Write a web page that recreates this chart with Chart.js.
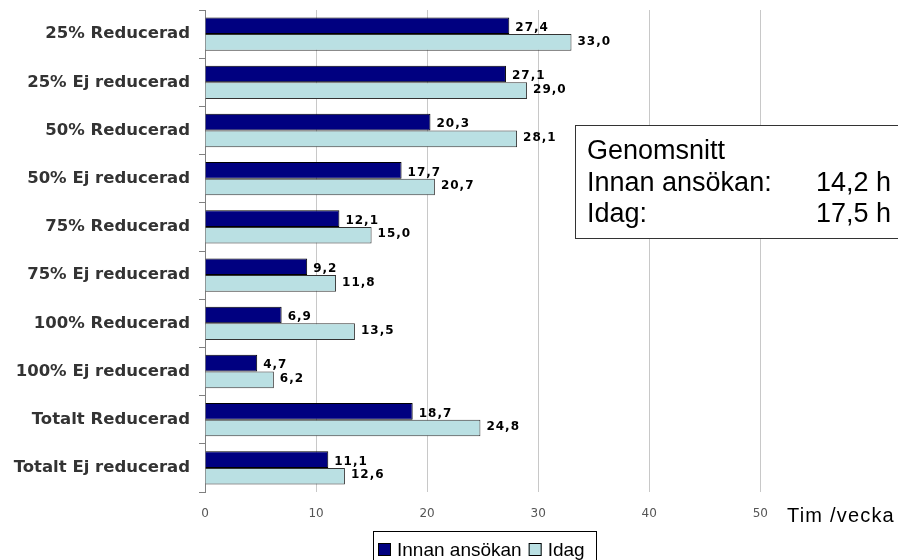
<!DOCTYPE html>
<html>
<head>
<meta charset="utf-8">
<script src="https://cdn.jsdelivr.net/npm/chart.js@4"></script>
<style>
  body { margin: 0; background: #fff; }
  canvas { display: block; }
</style>
</head>
<body>
<canvas id="timChart" width="898" height="560"></canvas>
<script>
// ========= DATA ==========
const categories = [
  "25% Reducerad",
  "25% Ej reducerad",
  "50% Reducerad",
  "50% Ej reducerad",
  "75% Reducerad",
  "75% Ej reducerad",
  "100% Reducerad",
  "100% Ej reducerad",
  "Totalt Reducerad",
  "Totalt Ej reducerad"
];
const innanAnsokan = [27.4, 27.1, 20.3, 17.7, 12.1, 9.2, 6.9, 4.7, 18.7, 11.1];
const idag = [33.0, 29.0, 28.1, 20.7, 15.0, 11.8, 13.5, 6.2, 24.8, 12.6];
const seriesNames = ["Innan ansökan", "Idag"];
const xTicks = [0, 10, 20, 30, 40, 50];
const axisTitle = "Tim /vecka";
const summaryTitle = "Genomsnitt";
const summaryRows = [["Innan ansökan:", "14,2 h"], ["Idag:", "17,5 h"]];

const DARK = "#000080";
const LIGHT = "#bae0e3";

const fmt = (v) => v.toFixed(1).replace(".", ",");

// ========= VALUE LABELS ==========
const valueLabels = {
  id: "valueLabels",
  afterDatasetsDraw(chart) {
    const ctx = chart.ctx;
    ctx.save();
    ctx.font = "bold 12px 'DejaVu Sans'";
    ctx.letterSpacing = "1px";
    ctx.fillStyle = "#000";
    ctx.textBaseline = "middle";
    ctx.textAlign = "left";
    chart.data.datasets.forEach((ds, i) => {
      const meta = chart.getDatasetMeta(i);
      meta.data.forEach((bar, j) => {
        const dy = i === 0 ? 2 : -1;
        ctx.fillText(fmt(ds.data[j]), bar.x + 6, bar.y + dy);
      });
    });
    ctx.restore();
  }
};

// ========= EXTRAS: AXIS TITLE, SUMMARY BOX, LEGEND ==========
const extras = {
  id: "extras",
  afterDraw(chart) {
    const ctx = chart.ctx;
    ctx.save();

    // axis title next to last tick
    ctx.fillStyle = "#000";
    ctx.font = "20px 'Liberation Sans'";
    ctx.letterSpacing = "1.2px";
    ctx.textBaseline = "alphabetic";
    ctx.textAlign = "left";
    ctx.fillText(axisTitle, 787, 522);
    ctx.letterSpacing = "0px";

    // summary box
    ctx.fillStyle = "#fff";
    ctx.fillRect(575.5, 125.5, 340, 113);
    ctx.strokeStyle = "#333";
    ctx.lineWidth = 1;
    ctx.strokeRect(575.5, 125.5, 340, 113);
    ctx.fillStyle = "#000";
    ctx.font = "27px 'Liberation Sans'";
    ctx.fillText(summaryTitle, 587, 159);
    summaryRows.forEach((r, i) => {
      ctx.fillText(r[0], 587, 191 + i * 31);
      ctx.fillText(r[1], 816, 191 + i * 31);
    });

    // legend
    ctx.strokeStyle = "#000";
    ctx.strokeRect(373.5, 531.5, 223, 40);
    ctx.font = "19px 'Liberation Sans'";
    const cols = [DARK, LIGHT];
    let lx = 378;
    seriesNames.forEach((name, i) => {
      ctx.fillStyle = cols[i];
      ctx.fillRect(lx, 543, 13, 13);
      ctx.strokeRect(lx + 0.5, 543.5, 12, 12);
      ctx.fillStyle = "#000";
      ctx.fillText(name, lx + 19, 556);
      lx += 19 + ctx.measureText(name).width + 7;
    });

    ctx.restore();
  }
};

// drop the label padding Chart.js adds around the plot
const noPadX = (s) => { s.height = 68; s.paddingLeft = 0; s.paddingRight = 0; };
const noPadY = (s) => { s.width = 205; s.paddingTop = 0; s.paddingBottom = 0; };

// ========= CHART.JS ==========
new Chart(document.getElementById("timChart").getContext("2d"), {
  type: "bar",
  data: {
    labels: categories,
    datasets: [
      {
        label: seriesNames[0],
        data: innanAnsokan,
        backgroundColor: DARK,
        borderColor: "#000",
        borderWidth: 1,
        categoryPercentage: 0.69,
        barPercentage: 1
      },
      {
        label: seriesNames[1],
        data: idag,
        backgroundColor: LIGHT,
        borderColor: "#333",
        borderWidth: 1,
        categoryPercentage: 0.69,
        barPercentage: 1
      }
    ]
  },
  options: {
    indexAxis: "y",
    responsive: false,
    animation: false,
    layout: { padding: { top: 10, left: 0, right: 0, bottom: 0 } },
    plugins: {
      legend: { display: false },
      tooltip: { enabled: false }
    },
    scales: {
      x: {
        min: 0,
        max: 62.4,
        afterFit: noPadX,
        border: { display: false },
        grid: {
          drawTicks: false,
          color: (c) => (c.tick && c.tick.value > 0 && c.tick.value <= 50 ? "#c8c8c8" : "rgba(0,0,0,0)")
        },
        ticks: {
          stepSize: 10,
          autoSkip: false,
          padding: 15,
          color: "#555",
          font: { family: "DejaVu Sans", size: 12 },
          callback: (v) => (xTicks.includes(v) ? v : "")
        }
      },
      y: {
        afterFit: noPadY,
        border: { color: "#808080" },
        grid: {
          drawOnChartArea: false,
          tickLength: 6,
          color: "#808080"
        },
        ticks: {
          padding: 9,
          color: "#333",
          font: { family: "DejaVu Sans", size: 16.5, weight: "bold" }
        }
      }
    }
  },
  plugins: [valueLabels, extras]
});
</script>
</body>
</html>
